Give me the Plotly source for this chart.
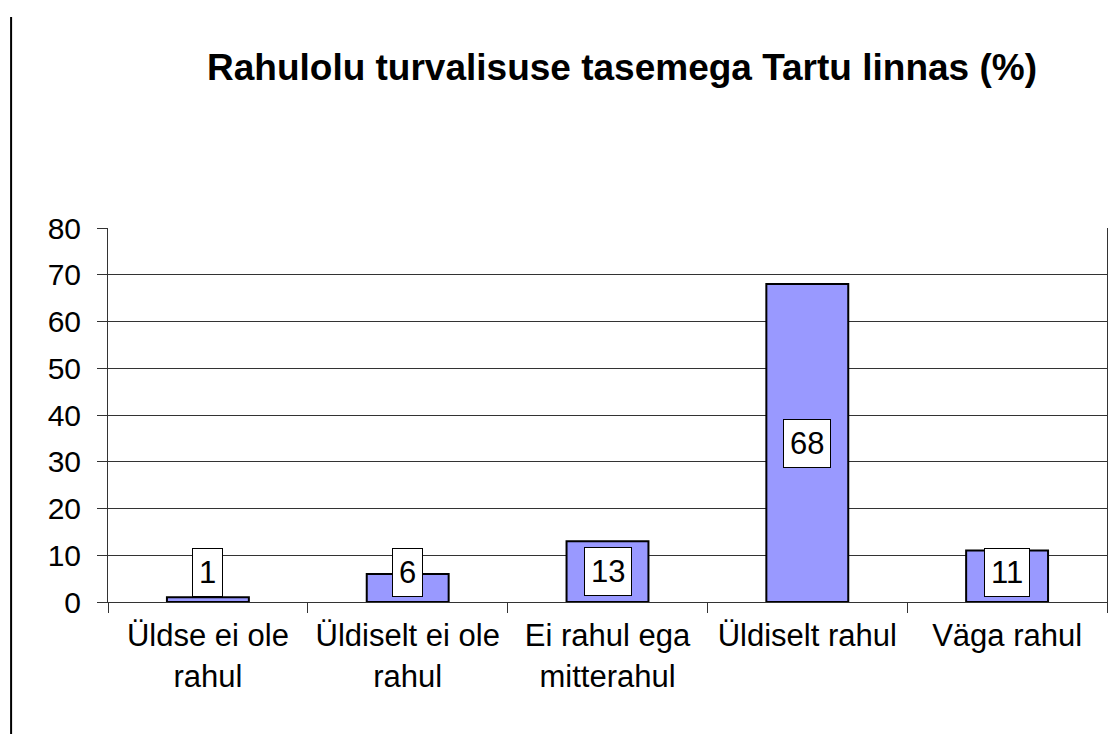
import plotly.graph_objects as go

categories = ["Üldse ei ole<br>rahul", "Üldiselt ei ole<br>rahul", "Ei rahul ega<br>mitterahul", "Üldiselt rahul", "Väga rahul"]
values = [1, 6, 13, 68, 11]
y_ticks = [0, 10, 20, 30, 40, 50, 60, 70, 80]
title_text = "Rahulolu turvalisuse tasemega Tartu linnas (%)"

FONT = "Liberation Sans, Arial, sans-serif"

fig = go.Figure()
fig.add_trace(go.Bar(
    x=categories, y=values, width=0.41,
    marker=dict(color="#9999FF", line=dict(color="#000000", width=2)),
    hoverinfo="skip",
))

for c, v in zip(categories, values):
    fig.add_annotation(
        x=c, y=max(v / 2, 6.3), xref="x", yref="y", text=str(v), showarrow=False,
        font=dict(family=FONT, size=31, color="#000000"),
        bgcolor="#FFFFFF", bordercolor="#000000", borderwidth=1, borderpad=6,
        xanchor="center", yanchor="middle",
    )

fig.add_annotation(
    text=title_text, xref="paper", yref="paper", x=0.5145, y=1, yshift=161,
    showarrow=False, font=dict(family=FONT, size=37, color="#000000", weight="bold"),
    xanchor="center", yanchor="middle",
)

fig.add_shape(type="line", xref="paper", yref="paper", x0=-0.097, x1=-0.097, y0=-0.4, y1=1.564,
              line=dict(color="#000000", width=2))

fig.update_layout(
    width=1120, height=734,
    margin=dict(l=100, r=21, t=220, b=140, autoexpand=False),
    paper_bgcolor="#FFFFFF", plot_bgcolor="#FFFFFF",
    showlegend=False,
    font=dict(family=FONT, size=30, color="#000000"),
    xaxis=dict(
        type="category", tickson="boundaries", ticks="outside", ticklen=10, tickcolor="#333333",
        showgrid=False, showline=True, linecolor="#333333", linewidth=1, automargin=False,
        ticklabelstandoff=6,
        tickfont=dict(family=FONT, size=31, color="#000000"),
    ),
    yaxis=dict(
        range=[0, 80], tickvals=y_ticks, ticks="outside", ticklen=10, tickcolor="#333333",
        showgrid=True, gridcolor="#333333", gridwidth=1,
        showline=True, mirror=True, linecolor="#333333", linewidth=1,
        zeroline=False, ticklabelstandoff=10, automargin=False,
        tickfont=dict(family=FONT, size=30, color="#000000"),
    ),
)

fig.write_html("out.html")
